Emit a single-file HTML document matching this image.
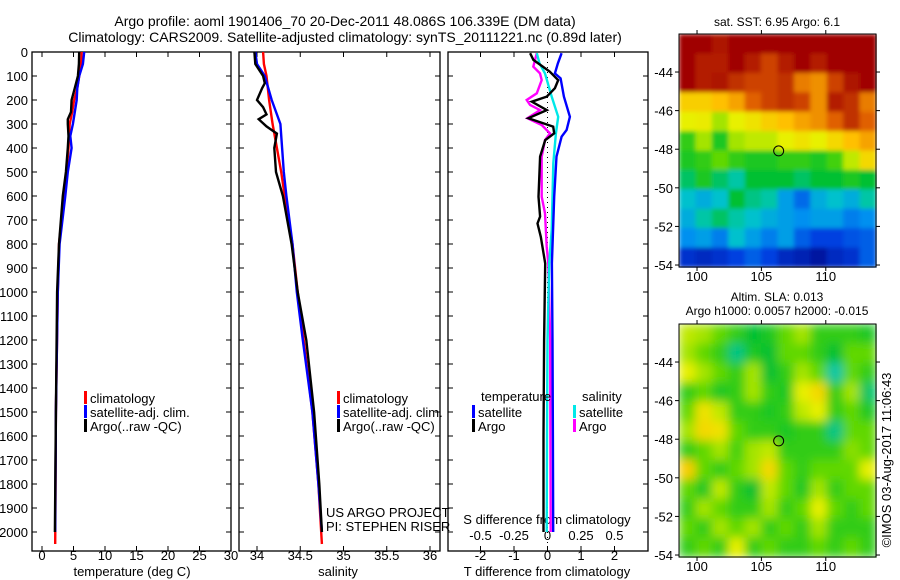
<!DOCTYPE html>
<html><head><meta charset="utf-8"><style>
body{margin:0;background:#fff;}
svg{display:block;font-family:"Liberation Sans",sans-serif;}
</style></head><body>
<svg id="c" width="900" height="580" viewBox="0 0 900 580">
<defs>
<filter id="blur" x="0" y="0" width="1" height="1"><feGaussianBlur stdDeviation="5" edgeMode="duplicate"/></filter>
<filter id="blur2" x="0" y="0" width="1" height="1"><feGaussianBlur stdDeviation="2" edgeMode="duplicate"/></filter>
</defs>
</svg>
<script>
// ---- data ----
const depthTicks=[0,100,200,300,400,500,600,700,800,900,1000,1100,1200,1300,1400,1500,1600,1700,1800,1900,2000];
const tempTicks=[0,5,10,15,20,25,30];
const salTicks=[34,34.5,35,35.5,36];
const tdiffTicks=[-2,-1,0,1,2];
const sdiffTicks=[-0.5,-0.25,0,0.25,0.5];
const sdiffTickLabels=["-0.5","-0.25","0","0.25","0.5"];
const lonTicks=[100,105,110];
const latTicks=[-44,-46,-48,-50,-52,-54];

const tClimDepth=[0,50,100,150,200,250,300,350,400,500,600,800,1000,1500,2050];
const tClim=[6.3,6.2,5.9,5.6,5.1,4.8,4.4,4.3,4.2,3.9,3.5,2.7,2.5,2.2,2.1];
const tSatDepth=[0,50,100,150,200,250,300,350,400,500,600,800,1000,1500,2000];
const tSat=[6.7,6.5,5.9,5.6,5.5,5.2,4.9,4.5,4.7,4.1,3.7,2.8,2.5,2.2,2.1];
const tArgoDepth=[0,50,100,150,200,250,280,300,350,400,500,600,800,1000,1500,2000];
const tArgo=[5.9,5.85,5.7,5.2,4.7,4.6,4.1,4.1,4.2,4.1,3.8,3.3,2.7,2.4,2.2,2.05];

const sClimDepth=[0,50,100,200,300,400,500,600,800,1000,1200,1500,1800,2050];
const sClim=[34.07,34.08,34.11,34.14,34.18,34.23,34.28,34.32,34.41,34.47,34.54,34.64,34.71,34.75];
const sSatDepth=[0,50,100,200,300,400,500,600,800,1000,1200,1500,1800,2000];
const sSat=[33.98,34.0,34.09,34.17,34.27,34.29,34.31,34.34,34.41,34.46,34.53,34.64,34.71,34.75];
const sArgoDepth=[0,50,100,130,150,200,230,260,280,310,340,400,500,600,800,1000,1200,1500,1800,2000];
const sArgo=[33.97,33.98,34.07,34.09,34.06,34.0,34.07,34.11,34.02,34.11,34.23,34.2,34.22,34.3,34.4,34.47,34.57,34.66,34.72,34.75];

const dTSatDepth=[5,47,89,110,186,270,325,353,436,603,880,1200,1600,2000];
const dTSat=[0.42,0.31,0.22,0.39,0.49,0.67,0.57,0.42,0.27,0.2,0.13,0.15,0.16,0.17];
const dTArgoDepth=[5,33,82,117,151,186,207,242,276,311,339,367,436,603,686,714,770,881,1200,1600,2000];
const dTArgo=[-0.52,-0.42,0.07,0.32,0.22,-0.02,-0.47,-0.02,-0.57,0.17,0.2,-0.07,-0.22,-0.27,-0.22,-0.3,-0.2,-0.07,-0.1,-0.12,-0.12];
const dSSatDepth=[5,47,89,186,270,339,464,741,881,1200,1600,2000];
const dSSat=[-0.08,-0.06,-0.019,0.031,0.08,0.063,0.043,0.031,0.013,0.0,-0.004,-0.006];
const dSArgoDepth=[5,61,89,117,172,200,221,242,276,304,339,367,436,603,672,811,881,1200,1600,2000];
const dSArgo=[-0.08,-0.106,-0.056,-0.043,-0.08,-0.155,-0.13,-0.056,-0.15,-0.043,0.019,-0.019,-0.043,-0.043,-0.019,-0.006,0.006,0.02,0.022,0.024];

const sstGrid=[
[0.95,0.95,0.93,0.95,0.95,0.95,0.95,0.95,0.95,0.95,0.95,0.95],
[0.95,0.92,0.92,0.95,0.92,0.88,0.92,0.95,0.92,0.95,0.95,0.95],
[0.95,0.92,0.93,0.9,0.88,0.88,0.9,0.82,0.8,0.88,0.93,0.95],
[0.72,0.72,0.75,0.78,0.85,0.88,0.9,0.88,0.8,0.92,0.9,0.82],
[0.65,0.66,0.6,0.65,0.68,0.72,0.75,0.78,0.8,0.85,0.9,0.85],
[0.5,0.6,0.48,0.6,0.62,0.62,0.65,0.68,0.65,0.7,0.75,0.78],
[0.48,0.5,0.55,0.5,0.48,0.48,0.5,0.5,0.48,0.52,0.62,0.7],
[0.42,0.48,0.42,0.38,0.45,0.45,0.45,0.42,0.45,0.45,0.48,0.45],
[0.35,0.32,0.35,0.45,0.4,0.38,0.3,0.22,0.32,0.35,0.32,0.38],
[0.32,0.38,0.42,0.38,0.35,0.32,0.3,0.28,0.3,0.3,0.25,0.28],
[0.28,0.3,0.25,0.35,0.3,0.25,0.3,0.2,0.15,0.15,0.18,0.2],
[0.12,0.1,0.12,0.15,0.2,0.15,0.1,0.08,0.05,0.1,0.12,0.2]];
const slaGrid=[
[0.62,0.6,0.55,0.5,0.45,0.48,0.55,0.6,0.5,0.5,0.5,0.48],
[0.6,0.55,0.5,0.4,0.48,0.45,0.55,0.55,0.5,0.45,0.55,0.55],
[0.65,0.6,0.55,0.5,0.6,0.45,0.5,0.6,0.55,0.38,0.55,0.5],
[0.5,0.55,0.48,0.5,0.6,0.5,0.48,0.65,0.7,0.5,0.6,0.42],
[0.55,0.68,0.62,0.5,0.5,0.48,0.5,0.62,0.65,0.5,0.55,0.48],
[0.6,0.7,0.68,0.55,0.5,0.5,0.48,0.5,0.5,0.4,0.55,0.55],
[0.5,0.55,0.6,0.52,0.6,0.62,0.5,0.5,0.5,0.5,0.58,0.55],
[0.72,0.55,0.5,0.55,0.6,0.7,0.55,0.5,0.55,0.55,0.55,0.65],
[0.55,0.48,0.62,0.5,0.45,0.62,0.55,0.48,0.6,0.5,0.55,0.55],
[0.5,0.6,0.55,0.5,0.5,0.6,0.5,0.55,0.65,0.55,0.5,0.55],
[0.55,0.5,0.6,0.55,0.6,0.5,0.55,0.5,0.6,0.5,0.5,0.5],
[0.5,0.55,0.5,0.65,0.5,0.55,0.5,0.5,0.55,0.5,0.55,0.5]];
const argoLon=106.34, argoLat=-48.086;

// ---- helpers ----
const svg=document.getElementById('c');
const NS='http://www.w3.org/2000/svg';
function mk(tag,attrs,parent){const e=document.createElementNS(NS,tag);for(const k in attrs)e.setAttribute(k,attrs[k]);(parent||svg).appendChild(e);return e;}
function txt(x,y,s,size,anchor,name){const t=mk('text',{x:x,y:y,'font-size':size,'text-anchor':anchor||'middle',fill:'#000'});t.textContent=s;


return t;}
const Y0=52, DPX=0.24;
function yD(d){return Y0+d*DPX;}
const P={t:{l:32,r:231},s:{l:239,r:440},d:{l:448,r:648}};
const TOP=52,BOT=551;
function xT(v){return 42+v*6.3;}
function xS(v){return 257+(v-34)*86.5;}
function xDT(v){return 547.5+v*33.5;}
function xDS(v){return 547.5+v*134;}

const stops=[[0,[0,0,128]],[0.15,[0,64,224]],[0.28,[0,144,240]],[0.36,[0,200,200]],[0.45,[0,192,48]],[0.55,[96,216,0]],[0.65,[232,240,0]],[0.75,[255,192,0]],[0.85,[224,96,0]],[0.95,[160,0,0]],[1,[140,0,0]]];
function cmap(v){for(let i=1;i<stops.length;i++){if(v<=stops[i][0]){const a=stops[i-1],b=stops[i];const f=(v-a[0])/(b[0]-a[0]);return 'rgb('+a[1].map((c,j)=>Math.round(c+(b[1][j]-c)*f)).join(',')+')';}}return 'rgb(140,0,0)';}

// ---- titles ----
txt(345,26,'Argo profile: aoml 1901406_70 20-Dec-2011 48.086S 106.339E (DM data)',14,'middle','title-line-1');
txt(345,42,'Climatology: CARS2009. Satellite-adjusted climatology: synTS_20111221.nc (0.89d later)',14,'middle','title-line-2');

// ---- panels frames & ticks ----
function panel(p,name,xt,xf,labels){
  const g=mk('g',{});
  
  
  mk('rect',{x:p.l,y:TOP,width:p.r-p.l,height:BOT-TOP,fill:'none',stroke:'#000','stroke-width':1.3},g);
  depthTicks.forEach(d=>{const y=yD(d);mk('line',{x1:p.l,x2:p.l+5,y1:y,y2:y,stroke:'#000'},g);mk('line',{x1:p.r-5,x2:p.r,y1:y,y2:y,stroke:'#000'},g);});
  xt.forEach((v,i)=>{const x=xf(v);mk('line',{x1:x,x2:x,y1:TOP,y2:TOP+5,stroke:'#000'},g);mk('line',{x1:x,x2:x,y1:BOT-5,y2:BOT,stroke:'#000'},g);
    if(labels){txt(x,560,labels[i],13,'middle','x-tick-label');}});
  return g;
}
panel(P.t,'temperature-panel',tempTicks,xT,tempTicks.map(String));
panel(P.s,'salinity-panel',salTicks,xS,salTicks.map(String));
panel(P.d,'difference-panel',tdiffTicks,xDT,tdiffTicks.map(String));
depthTicks.forEach(d=>txt(28,yD(d)+5,String(d),13,'end','depth-tick-label'));
txt(132,576,'temperature (deg C)',13,'middle','temperature-axis-title');
txt(338,576,'salinity',13,'middle','salinity-axis-title');
txt(547,576,'T difference from climatology',13,'middle','t-difference-axis-title');
txt(547,524,'S difference from climatology',13,'middle','s-difference-axis-title');
sdiffTicks.forEach((v,i)=>txt(xDS(v),540,sdiffTickLabels[i],13,'middle','s-difference-tick-label'));
mk('line',{x1:xDT(0),x2:xDT(0),y1:TOP,y2:BOT,stroke:'#000','stroke-dasharray':'1,4'});

function line(xs,ds,xf,color,name,w){
  const pts=xs.map((v,i)=>xf(v).toFixed(1)+','+yD(ds[i]).toFixed(1)).join(' ');
  const e=mk('polyline',{points:pts,fill:'none',stroke:color,'stroke-width':w||2.4,'stroke-linejoin':'miter'});
  
  
}
line(tClim,tClimDepth,xT,'#ff0000','temp-climatology-line');
line(tSat,tSatDepth,xT,'#0000ff','temp-satellite-line');
line(tArgo,tArgoDepth,xT,'#000000','temp-argo-line');
line(sClim,sClimDepth,xS,'#ff0000','sal-climatology-line');
line(sSat,sSatDepth,xS,'#0000ff','sal-satellite-line');
line(sArgo,sArgoDepth,xS,'#000000','sal-argo-line');
line(dSArgo,dSArgoDepth,xDS,'#ff00ff','s-diff-argo-line');
line(dSSat,dSSatDepth,xDS,'#00e8e8','s-diff-satellite-line');
line(dTArgo,dTArgoDepth,xDT,'#000000','t-diff-argo-line');
line(dTSat,dTSatDepth,xDT,'#0000ff','t-diff-satellite-line');

// ---- legends ----
function legItem(x,y,color,label,name){
  mk('rect',{x:x,y:y-10,width:3,height:13,fill:color});
  txt(x+6,y+2,label,13,'start',name);
}
[[84,'temp'],[337,'sal']].forEach(([x,n])=>{
  legItem(x,401,'#ff0000','climatology',n+'-legend-climatology');
  legItem(x,415,'#0000ff','satellite-adj. clim.',n+'-legend-satellite');
  legItem(x,429,'#000000','Argo(..raw -QC)',n+'-legend-argo');
});
txt(481,401,'temperature',13,'start','legend-temperature-header');
txt(582,401,'salinity',13,'start','legend-salinity-header');
legItem(472,415,'#0000ff','satellite','legend-t-satellite');
legItem(472,429,'#000000','Argo','legend-t-argo');
legItem(573,415,'#00e8e8','satellite','legend-s-satellite');
legItem(573,429,'#ff00ff','Argo','legend-s-argo');
txt(326,517,'US ARGO PROJECT',13,'start','project-label');
txt(326,531,'PI: STEPHEN RISER',13,'start','pi-label');

// ---- maps ----
const M={l:679,r:876,lonL:98.6,lonR:113.9,latTop:-42.03,pxLat:19.3};
function mapLon(lon){return M.l+(lon-M.lonL)*(M.r-M.l)/(M.lonR-M.lonL);}
function drawMap(top,grid,name,filt){
  const g=mk('g',{});
  
  
  const bot=top+233, rows=grid.length, cols=grid[0].length;
  const cw=(M.r-M.l)/cols, ch=(bot-top)/rows;
  const cells=mk('g',{filter:'url(#'+filt+')'},g);
  grid.forEach((row,r)=>row.forEach((v,c)=>{
    const cell=mk('rect',{x:(M.l+c*cw).toFixed(2),y:(top+r*ch).toFixed(2),width:(cw+0.6).toFixed(2),height:(ch+0.6).toFixed(2),fill:cmap(v)},cells);
    
    
  }));
  const yLat=lat=>top+(M.latTop-lat)*M.pxLat;
  mk('rect',{x:M.l,y:top,width:M.r-M.l,height:bot-top,fill:'none',stroke:'#000','stroke-width':1},g);
  latTicks.forEach(l=>{const y=yLat(l);mk('line',{x1:M.l-4,x2:M.l,y1:y,y2:y,stroke:'#000'},g);mk('line',{x1:M.r,x2:M.r+4,y1:y,y2:y,stroke:'#000'},g);txt(673,y+5,String(l),13,'end','lat-tick-label');});
  lonTicks.forEach(l=>{const x=mapLon(l);mk('line',{x1:x,x2:x,y1:top-4,y2:top,stroke:'#000'},g);mk('line',{x1:x,x2:x,y1:bot,y2:bot+4,stroke:'#000'},g);txt(x,bot+14,String(l),13,'middle','lon-tick-label');});
  const cc=mk('circle',{cx:mapLon(argoLon),cy:yLat(argoLat),r:5,fill:'none',stroke:'#000','stroke-width':1},g);
  
  
}
drawMap(34,sstGrid,'sst-map','blur2');
drawMap(324,slaGrid,'sla-map','blur');
txt(777,26,'sat. SST: 6.95 Argo: 6.1',12,'middle','sst-map-title');
txt(777,301,'Altim. SLA: 0.013',12,'middle','sla-map-title');
txt(777,315,'Argo h1000: 0.0057 h2000: -0.015',12,'middle','sla-map-subtitle');
const ts=txt(0,0,'\u00A9IMOS 03-Aug-2017 11:06:43',13,'middle','timestamp-label');
ts.setAttribute('transform','translate(891,460) rotate(-90)');
</script>
</body></html>
